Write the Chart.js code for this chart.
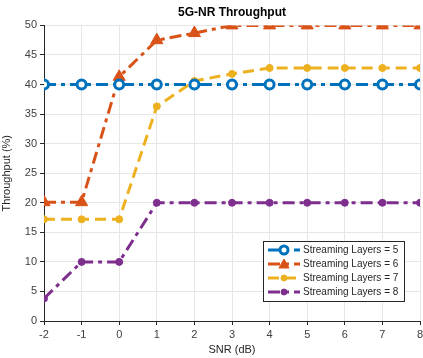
<!DOCTYPE html>
<html>
<head>
<meta charset="utf-8">
<script src="https://cdn.jsdelivr.net/npm/chart.js@4"></script>
<style>
  html, body { margin: 0; padding: 0; background: #fff; overflow: hidden; }
  #wrap { width: 423px; height: 358px; overflow: hidden; }
</style>
</head>
<body>
<div id="wrap"><canvas id="chart" width="428" height="358"></canvas></div>
<script>
// data
const snr = [-2, -1, 0, 1, 2, 3, 4, 5, 6, 7, 8];
const layers5 = [40, 40, 40, 40, 40, 40, 40, 40, 40, 40, 40];
const layers6 = [20.1, 20.1, 41.3, 47.5, 48.7, 50, 50, 50, 50, 50, 50];
const layers7 = [17.2, 17.2, 17.2, 36.3, 40.6, 41.8, 42.8, 42.8, 42.8, 42.8, 42.8];
const layers8 = [3.8, 10, 10, 20, 20, 20, 20, 20, 20, 20, 20];
const yTicks = [0, 5, 10, 15, 20, 25, 30, 35, 40, 45, 50];

const blue = '#0072BD', orange = '#D95319', yellow = '#EDB120', purple = '#7E2F8E';
const dashDot = [12, 5, 4, 5];
const dash = [11, 6];

function pts(ys) { return snr.map((x, i) => ({ x: x, y: ys[i] })); }

const datasets = [
  { label: 'Streaming Layers = 5', data: pts(layers5), borderColor: blue, backgroundColor: blue,
    borderDash: dashDot, pointStyle: 'circle', pointRadius: 4.5, pointBorderWidth: 3,
    pointBackgroundColor: '#fff', pointBorderColor: blue },
  { label: 'Streaming Layers = 6', data: pts(layers6), borderColor: orange, backgroundColor: orange,
    borderDash: dashDot, pointStyle: 'triangle', pointRadius: 7, pointBorderWidth: 1,
    pointBackgroundColor: orange, pointBorderColor: orange },
  { label: 'Streaming Layers = 7', data: pts(layers7), borderColor: yellow, backgroundColor: yellow,
    borderDash: dash, pointStyle: 'circle', pointRadius: 3.5, pointBorderWidth: 1,
    pointBackgroundColor: yellow, pointBorderColor: yellow },
  { label: 'Streaming Layers = 8', data: pts(layers8), borderColor: purple, backgroundColor: purple,
    borderDash: dashDot, pointStyle: 'circle', pointRadius: 3.5, pointBorderWidth: 1,
    pointBackgroundColor: purple, pointBorderColor: purple }
];
datasets.forEach(d => { d.borderWidth = 3; d.tension = 0; d.fill = false; });

// legend box drawn inside the plot, bottom right, like the matlab one
const insideLegend = {
  id: 'insideLegend',
  afterDraw(chart) {
    const ctx = chart.ctx;
    const area = chart.chartArea;
    const w = 141, h = 60;
    const x0 = area.right - w - 16, y0 = area.bottom - h - 20;
    ctx.save();
    ctx.fillStyle = '#fff';
    ctx.fillRect(x0, y0, w, h);
    ctx.strokeStyle = '#262626';
    ctx.lineWidth = 1;
    ctx.strokeRect(x0 + 0.5, y0 + 0.5, w, h);
    ctx.font = '10px "Liberation Sans", Arial, sans-serif';
    ctx.textBaseline = 'middle';
    chart.data.datasets.forEach((d, i) => {
      const y = y0 + 9 + i * 14;
      ctx.strokeStyle = d.borderColor;
      ctx.lineWidth = 3;
      ctx.setLineDash(d.borderDash);
      ctx.beginPath();
      ctx.moveTo(x0 + 5, y);
      ctx.lineTo(x0 + 37, y);
      ctx.stroke();
      ctx.setLineDash([]);
      const mx = x0 + 21;
      ctx.fillStyle = d.pointBackgroundColor;
      ctx.strokeStyle = d.pointBorderColor;
      ctx.lineWidth = d.pointBorderWidth;
      if (d.pointStyle === 'triangle') {
        ctx.beginPath();
        ctx.moveTo(mx, y - 5);
        ctx.lineTo(mx + 5, y + 4);
        ctx.lineTo(mx - 5, y + 4);
        ctx.closePath();
        ctx.fill();
        ctx.stroke();
      } else {
        ctx.beginPath();
        ctx.arc(mx, y, i === 0 ? 4 : 3, 0, Math.PI * 2);
        ctx.fill();
        ctx.stroke();
      }
      ctx.fillStyle = '#262626';
      ctx.fillText(d.label, x0 + 40, y + 0.5);
    });
    ctx.restore();
  }
};

new Chart(document.getElementById('chart'), {
  type: 'line',
  data: { datasets: datasets },
  plugins: [insideLegend],
  options: {
    responsive: false,
    animation: false,
    layout: { padding: { left: 0, right: 0, top: 0, bottom: 0 } },
    plugins: {
      legend: { display: false },
      tooltip: { enabled: false },
      title: {
        display: true, text: '5G-NR Throughput', color: '#000', fullSize: false,
        font: { family: '"Liberation Sans", Arial, sans-serif', size: 12, weight: 'bold' },
        padding: { top: 5, bottom: 6 }
      }
    },
    scales: {
      x: {
        type: 'linear', min: -2, max: 8,
        grid: { color: '#e6e6e6', drawTicks: true, tickLength: 4, tickColor: '#262626' },
        border: { color: '#262626' },
        ticks: { stepSize: 1, color: '#404040', padding: 3,
          font: { family: '"Liberation Sans", Arial, sans-serif', size: 11 } },
        title: { display: true, text: 'SNR (dB)', color: '#262626', padding: { top: 2, bottom: 1 },
          font: { family: '"Liberation Sans", Arial, sans-serif', size: 11 } },
        afterFit(s) { s.height = 37; }
      },
      y: {
        min: 0, max: 50,
        afterBuildTicks(s) { s.ticks = yTicks.map(v => ({ value: v })); },
        grid: { color: '#e6e6e6', tickLength: 4, tickColor: '#262626' },
        border: { color: '#262626' },
        ticks: { color: '#404040', padding: 3,
          font: { family: '"Liberation Sans", Arial, sans-serif', size: 11 } },
        title: { display: true, text: 'Throughput (%)', color: '#262626', padding: { top: 0, bottom: 0 },
          font: { family: '"Liberation Sans", Arial, sans-serif', size: 11 } },
        afterFit(s) { s.width = 44; }
      }
    }
  }
});
</script>
</body>
</html>
